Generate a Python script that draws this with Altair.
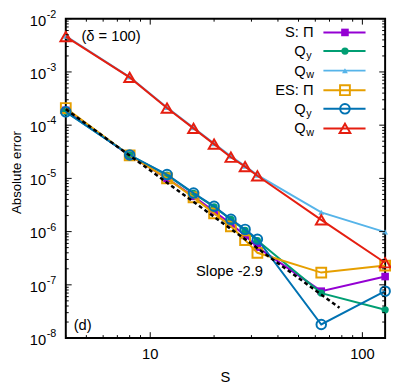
import altair as alt
import pandas as pd

# ---- data ----
S = [4, 8, 12, 16, 20, 24, 28, 32, 64, 128]
s_pi = [1.9e-4, 2.7e-5, 1.0e-5, 4.6e-6, 2.4e-6, 1.4e-6, 8.5e-7, 5.1e-7, 7.6e-8, 1.43e-7]
s_qy = [1.8e-4, 2.75e-5, 1.15e-5, 5.2e-6, 2.9e-6, 1.7e-6, 1.05e-6, 6.8e-7, 7.0e-8, 3.4e-8]
s_qw = [4.7e-3, 8.0e-4, 2.15e-4, 8.9e-5, 4.5e-5, 2.6e-5, 1.7e-5, 1.15e-5, 2.3e-6, 9.8e-7]
es_pi = [2.1e-4, 2.7e-5, 1.0e-5, 4.4e-6, 2.2e-6, 1.26e-6, 6.9e-7, 4.0e-7, 1.7e-7, 2.3e-7]
es_qy = [1.78e-4, 2.75e-5, 1.18e-5, 5.3e-6, 3.0e-6, 1.7e-6, 1.1e-6, 7.2e-7, 1.8e-8, 7.6e-8]
es_qw = [4.6e-3, 7.9e-4, 2.1e-4, 8.7e-5, 4.4e-5, 2.5e-5, 1.66e-5, 1.12e-5, 1.66e-6, 2.6e-7]
slope_S = [4, 78]
slope_y = [2.0e-4, 3.7e-8]

x_major = [10, 100]
x_minor = [4, 5, 6, 7, 8, 9, 20, 30, 40, 50, 60, 70, 80, 90]
y_exps = [-8, -7, -6, -5, -4, -3, -2]

FONT = "Liberation Sans"
FS = 15
W, H = 326, 326

xs = alt.Scale(type="log", domain=[4, 128], nice=False)
ys = alt.Scale(type="log", domain=[1e-8, 1e-2], nice=False)

series = [
    ("S: Π", "Q", "", s_pi, "#9400d3", "square", True, 60, 1),
    ("", "Q", "y", s_qy, "#009e73", "circle", True, 55, 1),
    ("", "Q", "w", s_qw, "#56b4e9", "triangle-up", True, 35, 1),
    ("ES: Π", "Q", "", es_pi, "#e69f00", "square", False, 100, 2),
    ("", "Q", "y", es_qy, "#0072b2", "circle", False, 95, 2),
    ("", "Q", "w", es_qw, "#e51e10", "triangle-up", False, 120, 2),
]

one = alt.Data(values=[{"a": 1}])
layers = []

for name, q, sub, vals, col, shape, filled, size, sw in series:
    df = pd.DataFrame({"S": S, "v": vals})
    base = alt.Chart(df).encode(
        x=alt.X("S:Q", scale=xs, axis=None),
        y=alt.Y("v:Q", scale=ys, axis=None),
    )
    layers.append(base.mark_line(color=col, strokeWidth=2))
    layers.append(base.mark_point(shape=shape, filled=filled, size=size, color=col,
                                  strokeWidth=sw, opacity=1))

# dashed slope guide
dfl = pd.DataFrame({"S": slope_S, "v": slope_y})
layers.append(alt.Chart(dfl).mark_line(color="black", strokeWidth=2.5, strokeDash=[4, 3]).encode(
    x=alt.X("S:Q", scale=xs, axis=None), y=alt.Y("v:Q", scale=ys, axis=None)))

# ticks (inward, mirrored)
def xticks(vals, L):
    d = pd.DataFrame({"t": vals})
    b = alt.Chart(d).mark_rule(color="black", strokeWidth=1)
    return [
        b.encode(x=alt.X("t:Q", scale=xs, axis=None), y=alt.value(H), y2=alt.value(H - L)),
        b.encode(x=alt.X("t:Q", scale=xs, axis=None), y=alt.value(0), y2=alt.value(L)),
    ]

def yticks(vals, L):
    d = pd.DataFrame({"t": vals})
    b = alt.Chart(d).mark_rule(color="black", strokeWidth=1)
    return [
        b.encode(y=alt.Y("t:Q", scale=ys, axis=None), x=alt.value(0), x2=alt.value(L)),
        b.encode(y=alt.Y("t:Q", scale=ys, axis=None), x=alt.value(W), x2=alt.value(W - L)),
    ]

y_major = [10.0 ** e for e in y_exps]
y_minor = [k * 10.0 ** e for e in y_exps[:-1] for k in range(2, 10)]
layers += xticks(x_major, 6) + xticks(x_minor, 3) + yticks(y_major, 6) + yticks(y_minor, 3)

# x labels
dxl = pd.DataFrame({"t": x_major, "lab": [str(v) for v in x_major]})
layers.append(alt.Chart(dxl).mark_text(font=FONT, fontSize=FS, baseline="middle", align="center").encode(
    x=alt.X("t:Q", scale=xs, axis=None), y=alt.value(H + 16), text="lab:N"))

# y labels 10^e
dyl = pd.DataFrame({"t": y_major, "e": [str(e) for e in y_exps]})
layers.append(alt.Chart(dyl).mark_text(font=FONT, fontSize=FS, baseline="middle", align="right", dy=2).encode(
    y=alt.Y("t:Q", scale=ys, axis=None), x=alt.value(-20), text=alt.value("10")))
layers.append(alt.Chart(dyl).mark_text(font=FONT, fontSize=11, baseline="middle", align="left", dy=-4).encode(
    y=alt.Y("t:Q", scale=ys, axis=None), x=alt.value(-19.5), text="e:N"))

# titles & annotations
def txt(s, x, y, size=FS, align="left", angle=0):
    return alt.Chart(one).mark_text(font=FONT, fontSize=size, align=align, baseline="middle",
                                    angle=angle).encode(x=alt.value(x), y=alt.value(y), text=alt.value(s))

layers.append(txt("S", W / 2, 366, align="center"))
layers.append(txt("Absolute error", -50, 157, size=13.5, align="center", angle=270))
layers.append(txt("(δ = 100)", 16, 18))
layers.append(txt("(d)", 8, 313))
layers.append(txt("Slope -2.9", 133, 258))

# manual legend
rows_y = [14, 33, 53, 73, 92, 112]
for (name, q, sub, vals, col, shape, filled, size, sw), ry in zip(series, rows_y):
    if sub == "":
        layers.append(txt(name, 253, ry, align="right"))
    else:
        layers.append(txt(q, 245, ry, align="right"))
        layers.append(txt(sub, 245.5, ry + 5, size=11, align="left"))
    layers.append(alt.Chart(one).mark_rule(color=col, strokeWidth=2).encode(
        x=alt.value(263), x2=alt.value(306), y=alt.value(ry)))
    layers.append(alt.Chart(one).mark_point(shape=shape, filled=filled, size=size, color=col,
                                            strokeWidth=sw, opacity=1).encode(
        x=alt.value(285), y=alt.value(ry)))

chart = alt.layer(*layers).properties(
    width=W, height=H,
    autosize=alt.AutoSizeParams(type="none"),
    padding={"left": 59, "top": 7, "right": 6, "bottom": 45},
).configure_view(stroke="black", strokeWidth=2)

chart.save("out.html", embed_options={"renderer": "svg", "actions": False})
